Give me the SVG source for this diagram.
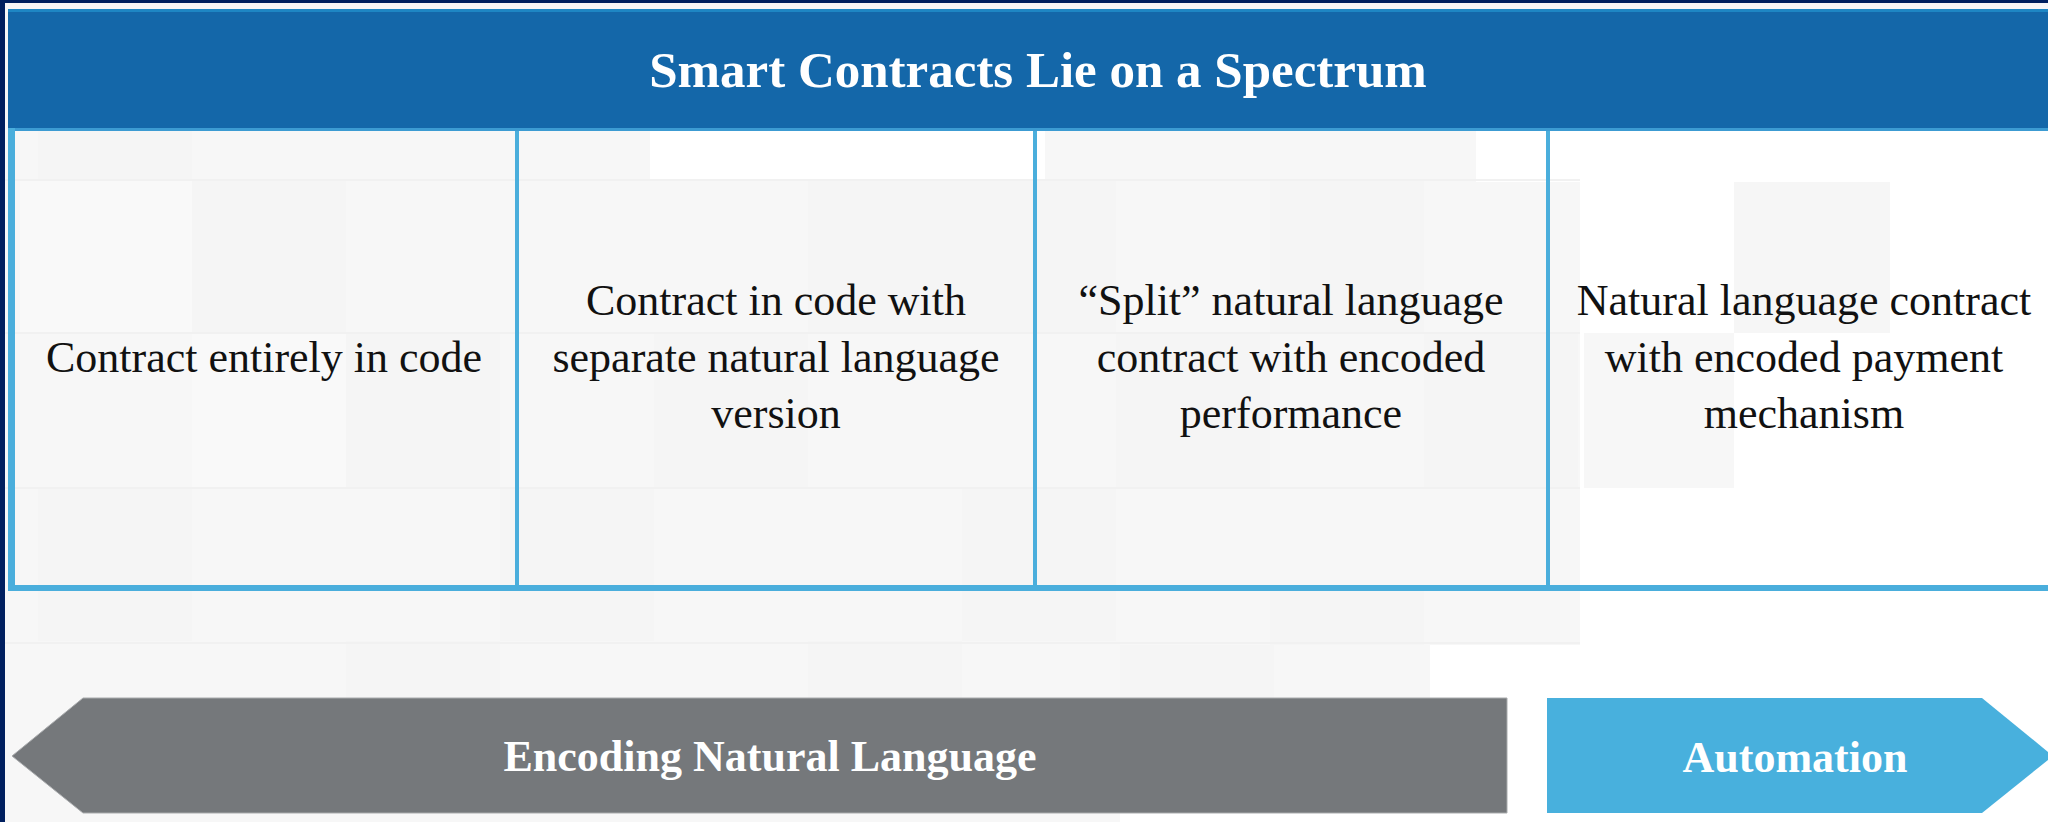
<svg xmlns="http://www.w3.org/2000/svg" width="2048" height="822" viewBox="0 0 2048 822">
  <style>
    .cell { font-family: "Liberation Serif", "Times New Roman", serif; font-size: 44px; fill: #111111; text-anchor: middle; }
    .title { font-family: "Liberation Serif", "Times New Roman", serif; font-size: 51px; font-weight: bold; fill: #ffffff; text-anchor: middle; }
    .band { font-family: "Liberation Serif", "Times New Roman", serif; font-size: 44px; font-weight: bold; fill: #ffffff; text-anchor: middle; }
    .tile { fill: #f5f5f5; }
    .tileL { fill: #f9f9f9; }
  </style>
  <!-- background -->
  <g id="background">
    <rect x="0" y="0" width="2048" height="822" fill="#ffffff"/>
    <rect x="0" y="0" width="1580" height="822" fill="#f7f7f7"/>
    <rect x="650" y="131" width="395" height="49" fill="#ffffff"/>
    <rect x="1476" y="131" width="104" height="51" fill="#ffffff"/>
    <rect x="1580" y="182" width="154" height="151" fill="#ffffff"/>
    <rect x="1734" y="182" width="156" height="151" fill="#f6f6f6"/>
    <rect x="1584" y="333" width="150" height="155" fill="#f7f7f7"/>
    <rect x="1430" y="645" width="150" height="177" fill="#ffffff"/>
    <rect x="1120" y="780" width="310" height="42" fill="#ffffff"/>
    <!-- soft tiles -->
    <rect class="tile" x="38" y="131" width="154" height="49"/>
    <rect class="tileL" x="20" y="180" width="172" height="153"/>
    <rect class="tile" x="192" y="180" width="154" height="153"/>
    <rect class="tileL" x="192" y="333" width="154" height="154"/>
    <rect class="tile" x="346" y="333" width="154" height="154"/>
    <rect class="tile" x="808" y="180" width="154" height="153"/>
    <rect class="tile" x="654" y="333" width="154" height="154"/>
    <rect class="tile" x="962" y="180" width="154" height="153"/>
    <rect class="tile" x="1270" y="180" width="154" height="153"/>
    <rect class="tile" x="1116" y="333" width="154" height="154"/>
    <rect class="tile" x="1424" y="333" width="154" height="154"/>
    <rect class="tile" x="38" y="487" width="154" height="154"/>
    <rect class="tile" x="500" y="487" width="154" height="154"/>
    <rect class="tile" x="962" y="487" width="154" height="154"/>
    <rect class="tile" x="1270" y="591" width="154" height="54"/>
    <rect class="tile" x="346" y="641" width="154" height="154"/>
    <rect class="tile" x="808" y="641" width="154" height="154"/>
    <rect class="tile" x="1120" y="645" width="154" height="60"/>
    <g stroke="#f1f1f1" stroke-width="2">
      <line x1="0" y1="180" x2="1580" y2="180"/>
      <line x1="0" y1="333" x2="1580" y2="333"/>
      <line x1="0" y1="488" x2="1580" y2="488"/>
      <line x1="0" y1="643" x2="1580" y2="643"/>
    </g>
  </g>
  <!-- frame -->
  <g id="frame">
    <rect x="0" y="3" width="2048" height="6" fill="#f8f6f7"/>
    <rect x="0" y="0" width="2048" height="3" fill="#001F5F"/>
    <rect x="0" y="0" width="5" height="822" fill="#001F5F"/>
  </g>
  <!-- header -->
  <g id="header">
    <rect x="8" y="9" width="2040" height="122" fill="#1467A9"/>
    <rect x="8" y="9" width="2040" height="3" fill="#1E86C4"/>
    <rect x="8" y="128" width="2040" height="3" fill="#3C9BD2"/>
    <text class="title" x="1038" y="87">Smart Contracts Lie on a Spectrum</text>
  </g>
  <!-- table grid -->
  <g id="table">
    <rect x="8" y="128" width="7" height="463" fill="#4AAEDC"/>
    <rect x="8" y="585" width="2040" height="6" fill="#4AAEDC"/>
    <rect x="515" y="131" width="4" height="456" fill="#4AAEDC"/>
    <rect x="1033" y="131" width="4" height="456" fill="#4AAEDC"/>
    <rect x="1546" y="131" width="4" height="456" fill="#4AAEDC"/>
  </g>
  <g id="cell1">
    <text class="cell" x="264" y="372">Contract entirely in code</text>
  </g>
  <g id="cell2">
    <text class="cell" x="776" y="315">Contract in code with</text>
    <text class="cell" x="776" y="372">separate natural language</text>
    <text class="cell" x="776" y="428">version</text>
  </g>
  <g id="cell3">
    <text class="cell" x="1291" y="315">“Split” natural language</text>
    <text class="cell" x="1291" y="372">contract with encoded</text>
    <text class="cell" x="1291" y="428">performance</text>
  </g>
  <g id="cell4">
    <text class="cell" x="1804" y="315">Natural language contract</text>
    <text class="cell" x="1804" y="372">with encoded payment</text>
    <text class="cell" x="1804" y="428">mechanism</text>
  </g>
  <!-- bottom arrows -->
  <g id="arrow-encoding">
    <polygon points="12,756 83,698 1507,698 1507,813 83,813" fill="#75787B" stroke="#a9abad" stroke-width="1"/>
    <text class="band" x="770" y="771">Encoding Natural Language</text>
  </g>
  <g id="arrow-automation">
    <polygon points="1547,698 1982,698 2053,756 1982,813 1547,813" fill="#48B0DD"/>
    <text class="band" x="1795" y="772">Automation</text>
  </g>
</svg>
